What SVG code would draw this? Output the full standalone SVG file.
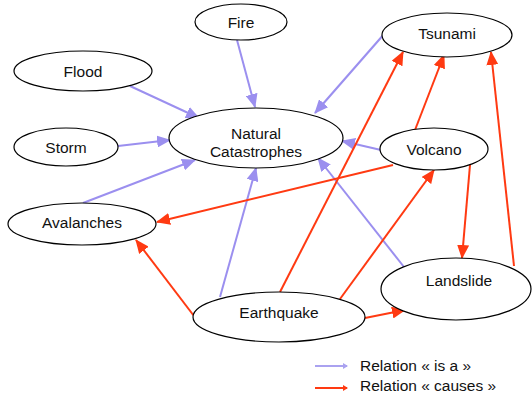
<svg xmlns="http://www.w3.org/2000/svg" width="532" height="393" viewBox="0 0 532 393">
<style>
.n ellipse{fill:#fff;stroke:#000;stroke-width:1.2}
text{font-family:"Liberation Sans",Arial,sans-serif;font-size:15.5px;fill:#111;text-anchor:middle}
.isa{stroke:#9b8fef;stroke-width:2;fill:none;marker-end:url(#ab)}
.cau{stroke:#ff3a12;stroke-width:2;fill:none;marker-end:url(#ar)}
.lg{stroke-width:2;fill:none}
</style>
<defs>
<marker id="ab" markerUnits="userSpaceOnUse" markerWidth="14" markerHeight="12" refX="13" refY="6" orient="auto"><path d="M0,0 L14,6 L0,12 Z" fill="#9b8fef"/></marker>
<marker id="ar" markerUnits="userSpaceOnUse" markerWidth="14" markerHeight="12" refX="13" refY="6" orient="auto"><path d="M0,0 L14,6 L0,12 Z" fill="#ff3a12"/></marker>
<marker id="sb" markerUnits="userSpaceOnUse" markerWidth="5" markerHeight="6" refX="4" refY="3" orient="auto"><path d="M0,0 L5,3 L0,6 Z" fill="#aaa2f0"/></marker>
<marker id="sr" markerUnits="userSpaceOnUse" markerWidth="5" markerHeight="6" refX="4" refY="3" orient="auto"><path d="M0,0 L5,3 L0,6 Z" fill="#ff3a12"/></marker>
</defs>
<rect width="532" height="393" fill="#fff"/>
<g id="connectors">
<line class="isa" x1="130" y1="86" x2="199" y2="118"/>
<line class="isa" x1="237" y1="40" x2="255" y2="107"/>
<line class="isa" x1="385" y1="33" x2="315" y2="113"/>
<line class="isa" x1="118" y1="146" x2="170" y2="140"/>
<line class="isa" x1="381" y1="150" x2="342" y2="141"/>
<line class="isa" x1="83" y1="203" x2="195" y2="160"/>
<line class="isa" x1="220" y1="297" x2="256" y2="168"/>
<line class="isa" x1="404" y1="267" x2="318" y2="158"/>
<line class="cau" x1="393" y1="165" x2="157" y2="222"/>
<line class="cau" x1="194" y1="316" x2="136" y2="240"/>
<line class="cau" x1="280" y1="292" x2="403" y2="52"/>
<line class="cau" x1="340" y1="299" x2="434" y2="170"/>
<line class="cau" x1="365" y1="318" x2="405" y2="310"/>
<line class="cau" x1="415" y1="130" x2="444" y2="55"/>
<line class="cau" x1="470" y1="165" x2="462" y2="258"/>
<line class="cau" x1="514" y1="266" x2="491" y2="52"/>
</g>
<g id="fire" class="n"><ellipse cx="241" cy="22" rx="46" ry="18"/><text x="241" y="28">Fire</text></g>
<g id="flood" class="n"><ellipse cx="83" cy="71" rx="69" ry="20"/><text x="83" y="77">Flood</text></g>
<g id="tsunami" class="n"><ellipse cx="447" cy="35" rx="65" ry="22"/><text x="447" y="39">Tsunami</text></g>
<g id="natural" class="n"><ellipse cx="256" cy="138" rx="87" ry="30"/><text x="256" y="139">Natural</text><text x="256" y="157">Catastrophes</text></g>
<g id="storm" class="n"><ellipse cx="66" cy="147" rx="52" ry="19"/><text x="66" y="153">Storm</text></g>
<g id="volcano" class="n"><ellipse cx="434" cy="149" rx="54" ry="21"/><text x="434" y="155">Volcano</text></g>
<g id="avalanches" class="n"><ellipse cx="82" cy="224" rx="74" ry="21"/><text x="82" y="228">Avalanches</text></g>
<g id="earthquake" class="n"><ellipse cx="279" cy="317" rx="86" ry="25"/><text x="279" y="318">Earthquake</text></g>
<g id="landslide" class="n"><ellipse cx="456" cy="289" rx="75" ry="31"/><text x="459" y="286">Landslide</text></g>
<g id="legend">
<line class="lg" x1="315" y1="366" x2="347" y2="366" stroke="#aaa2f0" marker-end="url(#sb)"/>
<line class="lg" x1="315" y1="388" x2="347" y2="388" stroke="#ff3a12" marker-end="url(#sr)"/>
<text x="360" y="371" style="text-anchor:start">Relation « is a »</text>
<text x="360" y="391" style="text-anchor:start">Relation « causes »</text>
</g>
</svg>
